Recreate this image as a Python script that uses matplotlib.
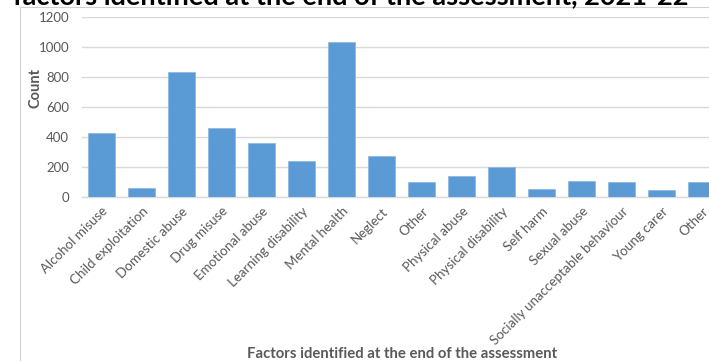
import matplotlib
matplotlib.use('Agg')
import matplotlib.pyplot as plt
from matplotlib.lines import Line2D

plt.rcParams.update({
    'font.family': ['Lato', 'DejaVu Sans'],
    'font.size': 9,
})

factors = ['Alcohol misuse', 'Child exploitation', 'Domestic abuse', 'Drug misuse',
           'Emotional abuse', 'Learning disability', 'Mental health', 'Neglect',
           'Other', 'Physical abuse', 'Physical disability', 'Self harm',
           'Sexual abuse', 'Socially unacceptable behaviour', 'Young carer', 'Other']
counts = [425, 55, 830, 460, 355, 235, 1030, 270, 100, 135, 200, 53, 105, 100, 42, 100]
y_ticks = [0, 200, 400, 600, 800, 1000, 1200]

W, H = 709, 361
fig = plt.figure(figsize=(W / 100, H / 100), dpi=100)

# plot area runs past the right edge, as in the cropped export
ax = fig.add_axes([81.7 / W, 1 - 196.7 / H, 640 / W, 180 / H])
x = list(range(len(factors)))
ax.bar(x, counts, width=0.667, color='#5B9BD5', edgecolor='#8fb9e3', linewidth=0.6, zorder=3)
ax.set_xlim(-0.5, len(factors) - 0.5)
ax.set_ylim(0, 1200)
ax.set_yticks(y_ticks)
ax.set_yticklabels([str(v) for v in y_ticks], color='#595959', fontsize=9.5)
ax.set_xticks(x)
ax.set_xticklabels(factors, rotation=45, ha='right', rotation_mode='anchor',
                   color='#595959', fontsize=9.6)
ax.tick_params(axis='both', length=0)
ax.tick_params(axis='y', pad=9)
ax.tick_params(axis='x', pad=6)
ax.grid(axis='y', color='#d9d9d9', linewidth=1.0, zorder=0)
for side in ['top', 'right', 'left']:
    ax.spines[side].set_visible(False)
ax.spines['bottom'].set_color('#d9d9d9')
ax.spines['bottom'].set_linewidth(1.0)

# chart frame
fig.add_artist(Line2D([20 / W, 20 / W], [0, 1 - 7 / H], color='#d0d0d0', lw=0.8))
fig.add_artist(Line2D([20 / W, 1], [1 - 7 / H, 1 - 7 / H], color='#d0d0d0', lw=0.8))

fig.text(351 / W, 1 - 4 / H, 'factors identified at the end of the assessment, 2021-22',
         ha='center', va='baseline', fontsize=19.5, fontweight='bold', color='black')
fig.text(35 / W, 1 - 88 / H, 'Count', rotation=90, ha='center', va='center',
         fontsize=10.5, fontweight='bold', color='#595959')
fig.text(402 / W, 1 - 354 / H, 'Factors identified at the end of the assessment',
         ha='center', va='center', fontsize=10.7, fontweight='bold', color='#595959')

fig.savefig('out.png', dpi=100)
